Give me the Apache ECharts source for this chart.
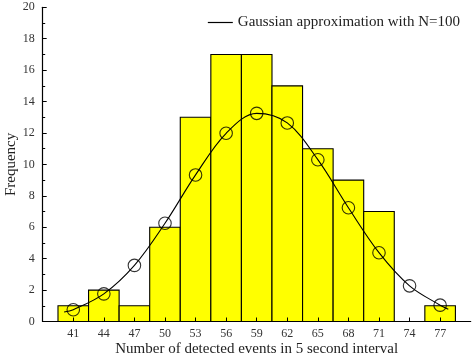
<!DOCTYPE html>
<html><head><meta charset="utf-8">
<script src="https://cdn.jsdelivr.net/npm/echarts@6/dist/echarts.min.js"></script>
<style>html,body{margin:0;padding:0;background:#fff}#c{width:475px;height:357px}</style>
</head><body><div id="c"></div>
<script>
var categories = [41, 44, 47, 50, 53, 56, 59, 62, 65, 68, 71, 74, 77];
var frequencies = [1, 2, 1, 6, 13, 17, 17, 15, 11, 9, 7, 0, 1];
var gaussPoints = [0.75, 1.76, 3.57, 6.25, 9.33, 11.98, 13.25, 12.64, 10.3, 7.24, 4.38, 2.27, 1.04];
var curveX = [40.1, 41, 44, 47, 50, 53, 56, 59, 62, 65, 68, 71, 74, 77, 77.8];
var curveY = [0.6, 0.75, 1.76, 3.57, 6.25, 9.33, 11.98, 13.25, 12.64, 10.3, 7.24, 4.38, 2.27, 1.04, 0.78];
var yTicks = [0, 2, 4, 6, 8, 10, 12, 14, 16, 18, 20];
var binWidth = 3;
var legendName = 'Gaussian approximation with N=100';

var font = 'Liberation Serif';
var chart = echarts.init(document.getElementById('c'));
chart.setOption({
  animation: false,
  backgroundColor: '#fff',
  grid: {left: 42.7, right: 4.3, top: 7.3, bottom: 35.5, containLabel: false, outerBoundsMode: 'none'},
  legend: {
    data: [{name: legendName, icon: 'rect'}],
    right: 10, top: 10,
    itemWidth: 25, itemHeight: 1.2, itemGap: 8,
    textStyle: {fontFamily: font, fontSize: 15, color: '#222'}
  },
  xAxis: {
    type: 'value', min: 38, max: 80, z: 10,
    name: 'Number of detected events in 5 second interval',
    nameLocation: 'middle', nameGap: 20, nameMoveOverlap: false,
    nameTextStyle: {fontFamily: font, fontSize: 15, color: '#222'},
    axisLine: {lineStyle: {color: '#000', width: 1.2}},
    axisTick: {inside: true, length: 4, customValues: categories, lineStyle: {color: '#000'}},
    axisLabel: {customValues: categories, fontFamily: font, fontSize: 12, color: '#333', margin: 6},
    splitLine: {show: false}
  },
  yAxis: {
    type: 'value', min: 0, max: 20, interval: 2, z: 10,
    name: 'Frequency', nameLocation: 'middle', nameGap: 24, nameMoveOverlap: false,
    nameTextStyle: {fontFamily: font, fontSize: 15, color: '#222'},
    axisLine: {show: true, lineStyle: {color: '#000', width: 1.2}},
    axisTick: {show: true, inside: true, length: 4, lineStyle: {color: '#000'}},
    minorTick: {show: true, splitNumber: 2, length: 2.5, lineStyle: {color: '#000'}},
    axisLabel: {fontFamily: font, fontSize: 12, color: '#333', margin: 8},
    splitLine: {show: false}
  },
  series: [
    {
      type: 'custom', name: 'hist', z: 2,
      data: categories.map(function (c, i) { return [c, frequencies[i]]; }),
      renderItem: function (params, api) {
        var x = api.value(0), v = api.value(1);
        if (!v) return null;
        var p0 = api.coord([x - binWidth / 2, v]);
        var p1 = api.coord([x + binWidth / 2, 0]);
        return {type: 'rect', shape: {x: p0[0], y: p0[1], width: p1[0] - p0[0], height: p1[1] - p0[1]},
          style: {fill: '#ffff00', stroke: '#000', lineWidth: 1.1}};
      }
    },
    {
      type: 'line', name: legendName, z: 4,
      data: curveX.map(function (x, i) { return [x, curveY[i]]; }),
      smooth: 0.35, showSymbol: false, symbol: 'none',
      lineStyle: {color: '#000', width: 1.1}, itemStyle: {color: '#000'}
    },
    {
      type: 'scatter', name: 'points', z: 5,
      data: categories.map(function (c, i) { return [c, gaussPoints[i]]; }),
      symbol: 'circle', symbolSize: 12.5,
      itemStyle: {color: 'rgba(0,0,0,0)', borderColor: '#000', borderWidth: 1.1}
    }
  ]
});
</script></body></html>
